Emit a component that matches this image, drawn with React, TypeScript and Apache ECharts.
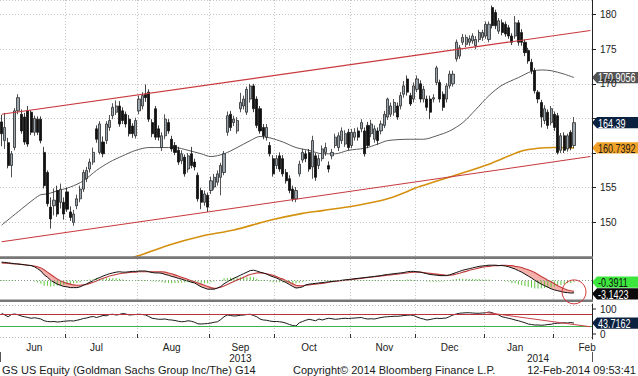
import React, { useEffect, useRef } from 'react';
import * as echarts from 'echarts';

const FONT = '"Liberation Sans", Arial, sans-serif';

// ---- calendar (categories) ----
const firstDay = '2013-06-03';
const slotCount = 181; // 176 trading days shown + empty slots to the right edge
const holidays = ['2013-07-04', '2013-09-02', '2013-11-28', '2013-12-25', '2014-01-01', '2014-01-20', '2014-02-17'];
const monthNames = ['Jan', 'Feb', 'Mar', 'Apr', 'May', 'Jun', 'Jul', 'Aug', 'Sep', 'Oct', 'Nov', 'Dec'];

// ---- daily prices [open, close, low, high] ----
const prices = [
  [164.5,162.8,161.0,165.5],[161.8,163.7,160.6,165.8],[161.5,158.2,157.8,162.2],[158.2,159.9,156.5,160.3],[160.8,166.1,160.4,166.5],
  [166.1,168.0,165.6,168.5],[165.6,163.2,162.8,166.3],[165.2,161.6,161.2,165.8],[166.1,161.3,160.9,166.8],[165.9,163.0,162.6,166.2],
  [163.0,165.0,162.5,165.4],[164.9,163.0,162.6,165.3],[164.9,161.8,161.4,165.3],[160.1,155.3,154.9,160.9],[157.2,152.7,152.3,157.5],
  [152.2,150.5,149.1,153.6],[152.4,153.2,151.0,154.9],[154.6,151.2,150.8,155.3],[152.9,154.8,152.0,155.6],[152.9,151.2,150.4,153.6],
  [154.4,151.9,151.5,155.0],[151.5,150.7,150.2,152.3],[150.0,151.2,149.5,151.8],[152.4,153.4,151.9,154.0],[153.4,154.8,152.9,155.3],
  [154.8,157.2,154.4,157.6],[156.3,157.5,155.8,158.0],[157.7,158.7,157.2,159.2],[158.7,160.1,158.3,160.8],[163.5,162.0,161.5,164.0],
  [160.1,164.2,159.8,164.6],[161.6,159.9,159.4,162.4],[161.8,164.2,161.3,164.6],[163.7,164.7,163.2,165.5],[165.4,166.6,164.9,167.2],
  [165.9,166.8,165.5,167.6],[166.8,164.2,163.8,167.5],[166.1,164.7,164.2,166.6],[165.6,164.2,163.7,166.0],[164.9,162.8,162.4,165.5],
  [163.9,162.8,162.2,164.3],[162.5,164.7,162.1,165.1],[166.1,167.8,165.6,168.3],[166.8,168.3,166.3,168.8],[168.5,168.0,167.4,169.9],
  [168.8,164.9,164.5,169.2],[164.4,162.8,162.3,164.9],[166.4,162.3,161.9,166.8],[163.5,162.3,161.8,164.0],[160.8,162.5,160.3,163.0],
  [162.5,164.9,162.0,165.6],[164.4,163.2,162.8,164.9],[162.0,160.6,160.2,162.5],[161.1,160.1,159.7,161.6],[160.4,158.7,158.3,160.9],
  [158.9,159.9,158.4,160.4],[159.4,157.0,156.6,159.8],[157.7,159.6,157.2,160.0],[159.9,158.2,157.8,160.9],[158.7,158.0,157.5,159.2],
  [156.8,153.4,153.0,157.2],[154.6,152.9,151.9,155.0],[152.9,154.1,152.4,154.6],[153.9,152.2,151.5,154.3],[154.6,156.0,154.1,156.6],
  [155.1,156.5,154.7,157.0],[155.8,157.0,155.3,157.5],[156.5,158.2,153.9,158.6],[157.2,159.9,156.8,160.3],[163.0,165.4,162.5,166.0],
  [165.6,163.7,163.2,166.1],[164.4,164.9,163.9,165.4],[163.2,164.7,162.8,165.2],[166.4,167.3,165.9,168.7],[166.8,167.8,166.3,168.3],
  [165.9,169.2,165.5,169.6],[167.8,169.7,167.3,170.0],[169.7,166.4,165.9,170.0],[167.8,164.0,163.6,168.2],[166.4,163.2,162.8,166.8],
  [163.7,162.5,162.0,164.2],[162.3,163.7,161.8,164.2],[161.1,159.9,159.5,161.6],[159.2,157.0,156.6,159.7],[158.2,159.2,157.7,159.7],
  [159.6,157.7,157.3,160.1],[159.2,157.0,156.6,159.7],[157.2,156.0,155.6,157.7],[156.3,154.6,154.2,156.8],[154.8,153.4,153.0,155.3],
  [153.4,154.6,152.9,155.1],[157.0,158.4,156.6,158.9],[159.0,160.1,158.6,160.6],[159.9,159.2,158.7,160.4],[160.1,157.7,157.3,160.6],
  [158.0,161.8,156.3,162.5],[159.6,156.5,156.0,160.0],[158.2,159.2,157.7,159.8],[159.2,160.6,158.8,161.1],[160.1,160.8,159.6,161.5],
  [158.2,157.7,157.2,158.8],[159.6,160.1,159.1,160.6],[161.1,162.3,160.7,162.8],[160.8,162.5,160.3,163.0],[161.8,163.2,161.3,163.7],
  [161.3,162.8,160.9,163.3],[163.0,160.8,160.4,163.5],[161.1,163.0,160.7,163.5],[162.3,163.0,161.8,163.6],[163.2,162.3,161.8,163.7],
  [163.5,164.4,163.0,164.9],[163.2,159.9,159.5,163.7],[164.0,161.1,160.7,164.5],[162.8,164.2,162.3,164.8],[162.0,163.5,161.5,164.0],
  [163.2,161.8,161.2,163.7],[163.2,164.2,162.7,164.7],[164.0,165.6,163.6,166.1],[165.2,167.8,164.8,168.0],[165.6,166.8,165.2,167.3],
  [165.9,167.3,165.4,167.8],[166.8,165.2,164.8,167.3],[166.8,168.3,166.3,168.8],[168.5,169.7,168.0,170.4],[170.7,168.8,168.3,171.2],
  [168.3,167.1,166.8,168.7],[167.8,169.7,167.3,170.2],[169.2,170.7,168.8,171.2],[170.0,167.8,167.3,170.5],[167.8,169.2,167.3,169.7],
  [167.8,166.6,166.1,168.3],[167.8,165.9,164.9,168.3],[167.8,168.0,167.3,168.5],[170.2,172.3,169.8,172.6],[170.2,167.8,167.3,170.6],
  [168.5,166.6,166.1,168.9],[167.8,169.7,167.3,170.1],[169.7,171.4,169.3,171.9],[170.0,171.4,169.6,171.9],[173.6,176.0,173.2,176.4],
  [174.0,175.2,173.6,175.6],[176.0,176.7,175.6,177.2],[175.7,176.7,175.3,177.1],[176.0,176.5,175.5,177.0],[176.2,176.9,175.8,177.3],
  [175.5,176.4,175.0,176.9],[176.4,177.4,176.0,177.8],[176.7,177.4,176.2,177.8],[176.9,178.6,176.5,179.0],[176.4,178.6,176.0,179.0],
  [181.0,178.4,178.0,181.3],[180.3,178.4,177.9,180.7],[177.6,179.1,177.2,179.5],[178.8,177.4,177.0,179.3],[178.6,177.2,176.8,179.0],
  [178.1,176.9,176.5,178.5],[176.9,176.0,175.6,177.3],[176.9,178.8,176.5,179.8],[178.8,176.0,175.5,179.2],[177.4,176.0,175.5,177.9],
  [176.0,174.5,174.0,176.4],[174.8,173.3,172.9,175.2],[173.1,171.9,171.4,173.6],[171.9,169.0,168.6,172.3],[168.8,167.8,167.2,169.1],
  [167.3,165.2,163.7,167.7],[164.7,166.4,164.2,166.9],[165.9,164.0,163.5,166.3],[164.4,166.4,164.0,166.8],[165.6,163.7,163.2,166.0],
  [165.4,160.1,159.8,165.8],[160.4,162.5,160.0,162.9],[162.5,160.4,160.0,163.0],[160.6,162.5,160.2,162.8],[163.0,160.8,160.4,163.3],
  [161.1,164.39,160.7,165.2],
];

// ---- moving averages, [day index, value] ----
const ma50 = [[0,149.6],[6,151.9],[10,153.4],[12,154.0],[14,154.1],[16,154.4],[21,155.1],[25,156.0],[29,157.5],[33,158.7],[37,159.6],[41,160.4],
  [45,160.8],[49,160.8],[53,160.8],[57,160.4],[61,159.9],[64,159.5],[68,159.9],[72,160.8],[76,161.8],[79,162.4],[82,162.2],[86,161.6],[90,160.8],
  [94,160.4],[98,159.9],[102,159.9],[106,160.4],[111,160.7],[115,161.3],[118,161.8],[125,162.0],[129,162.0],[133,162.5],[137,163.2],[141,164.4],
  [145,166.3],[149,168.3],[153,169.8],[158,170.9],[162,171.8],[165,172.0],[168,171.9],[172,171.4],[175,170.9056]];
const ma200 = [[38,144.6],[42,145.2],[51,146.7],[61,148.0],[71,148.9],[82,150.3],[92,151.3],[98,151.7],[108,152.4],[118,153.4],[128,155.2],
  [138,156.7],[149,158.4],[159,160.3],[164,160.7],[169,160.8],[175,160.7392]];

// ---- channel trend lines [day index, value] ----
const upperChannel = [[0, 165.6], [180, 177.7]];
const lowerChannel = [[0, 147.2], [180, 159.5]];

// ---- MACD ----
const macd = [4.8,4.7,4.6,4.5,4.4,4.3,4.2,4.1,4.0,3.9,3.6,3.1,2.5,1.5,0.9,0.1,-0.4,-0.9,-1.2,-1.5,
  -1.6,-1.8,-1.8,-1.8,-1.6,-1.2,-0.8,-0.4,0.0,0.5,0.8,1.2,1.5,1.8,2.0,2.2,2.3,2.2,2.2,2.3,
  2.4,2.4,2.5,2.5,2.5,2.3,2.1,2.0,2.0,1.9,1.6,1.4,1.1,0.9,0.6,0.4,0.1,-0.1,-0.4,-0.6,
  -1.1,-1.6,-1.9,-2.2,-2.2,-2.2,-1.9,-1.5,-0.8,-0.3,0.2,0.6,1.0,1.4,1.8,2.2,2.6,2.7,2.5,2.2,
  2.0,1.7,1.3,1.0,0.7,0.3,-0.1,-0.5,-1.0,-1.5,-1.9,-1.8,-1.6,-1.1,-0.9,-0.8,-0.7,-0.6,-0.5,-0.4,
  -0.3,-0.2,-0.1,0.0,0.1,0.2,0.3,0.4,0.5,0.6,0.7,0.8,0.9,1.0,1.1,1.2,1.3,1.5,1.6,1.7,
  1.8,1.9,2.0,2.1,2.3,2.4,2.4,2.3,2.2,2.0,1.8,1.6,1.5,1.4,1.3,1.3,1.3,1.5,1.8,2.1,
  2.4,2.7,2.9,3.1,3.3,3.5,3.7,3.8,3.9,4.0,4.0,4.0,3.9,3.9,3.8,3.6,3.3,3.0,2.6,2.2,
  1.7,1.2,0.7,0.1,-0.4,-0.9,-1.3,-1.7,-2.1,-2.4,-2.6,-2.8,-3.0,-3.1,-3.2,-3.1423];
const signal = [4.6,4.5,4.5,4.4,4.3,4.3,4.2,4.1,4.0,3.9,3.8,3.6,3.3,2.8,2.2,1.6,1.0,0.4,0.0,-0.4,
  -0.7,-0.9,-1.1,-1.2,-1.2,-1.1,-1.0,-0.7,-0.4,-0.1,0.3,0.6,0.9,1.2,1.4,1.6,1.8,1.9,2.0,2.1,
  2.2,2.2,2.3,2.3,2.3,2.3,2.3,2.3,2.3,2.3,2.2,2.0,1.8,1.5,1.2,0.9,0.6,0.3,0.0,-0.3,
  -0.6,-0.9,-1.2,-1.5,-1.8,-2.0,-1.9,-1.7,-1.4,-1.0,-0.6,-0.2,0.2,0.5,0.9,1.3,1.6,1.8,2.0,2.0,
  1.9,1.8,1.6,1.4,1.1,0.7,0.4,0.0,-0.4,-0.8,-1.2,-1.3,-1.3,-1.2,-1.1,-1.0,-0.9,-0.8,-0.7,-0.6,
  -0.4,-0.3,-0.2,-0.1,0.0,0.1,0.2,0.3,0.4,0.5,0.6,0.7,0.8,0.9,1.0,1.1,1.2,1.3,1.4,1.5,
  1.6,1.7,1.8,1.9,2.0,2.1,2.2,2.2,2.2,2.1,2.0,1.9,1.8,1.7,1.6,1.5,1.4,1.4,1.5,1.7,
  1.9,2.2,2.4,2.7,2.9,3.1,3.3,3.5,3.6,3.7,3.8,3.9,3.9,4.0,4.0,3.9,3.9,3.7,3.6,3.4,
  3.1,2.8,2.5,2.1,1.6,1.1,0.6,0.1,-0.3,-0.8,-1.3,-1.7,-2.1,-2.4,-2.6,-2.7512];

// ---- RSI ----
const rsi = [83,76,69,78,80,77,72,69,66,63,65,63,60,53,50,49,50,48,49,51,
  52,53,52,55,58,62,64,68,70,66,70,74,73,78,79,76,78,82,80,76,
  77,78,79,78,76,70,63,61,59,59,60,57,56,54,51,49,50,53,51,47,
  41,40,41,42,44,47,49,58,69,76,74,72,73,75,76,78,79,74,69,60,
  56,55,52,50,50,49,47,43,38,34,32,45,50,55,59,56,53,60,56,60,
  63,61,59,60,62,63,62,63,64,65,66,62,60,61,60,63,66,68,69,70,
  71,71,72,74,75,76,74,68,63,60,56,58,61,63,62,63,64,70,76,80,
  83,84,85,85,84,83,83,84,85,88,85,80,76,69,66,63,60,56,53,49,
  45,40,38,36,36,35,36,38,39,42,43,44,45,44,46,43.7162];
const rsiOverbought = 80;
const rsiOversold = 30;
const rsiTrend = [[148, 86], [180, 29]];
const rsiTicks = [0, 100];

// ---- last-value tags ----
const lastClose = 164.39;
const lastMa50 = 170.9056;
const lastMa200 = 160.7392;
const lastMacd = -3.1423;
const lastHist = -0.3911;
const lastRsi = 43.7162;
const macdCircle = [175, -2.9];

const footerLeft = 'GS US Equity (Goldman Sachs Group Inc/The) G14';
const footerMid = 'Copyright\u00A9 2014 Bloomberg Finance L.P.';
const footerRight = '12-Feb-2014 09:53:41';

function tradingDays(start: string, n: number, skip: string[]) {
  const out: string[] = [];
  const d = new Date(start + 'T00:00:00Z');
  while (out.length < n) {
    const dow = d.getUTCDay();
    const iso = d.toISOString().slice(0, 10);
    if (dow !== 0 && dow !== 6 && !skip.includes(iso)) out.push(iso);
    d.setUTCDate(d.getUTCDate() + 1);
  }
  return out;
}

export default function App() {
  const ref = useRef<HTMLDivElement>(null);
  useEffect(() => {
    const el = ref.current!;
    const chart = echarts.init(el, undefined, { renderer: 'svg' });
    const dates = tradingDays(firstDay, slotCount, holidays);

    const monthStarts = new Set<number>();
    const midMonth = new Map<number, string>();
    const seenMid = new Set<string>();
    const yearStarts = new Set<number>();
    const yearRange = new Map<string, [number, number]>();
    dates.forEach((d, i) => {
      const ym = d.slice(0, 7);
      if (i > 0 && dates[i - 1].slice(0, 7) !== ym) monthStarts.add(i);
      if (i > 0 && dates[i - 1].slice(0, 4) !== d.slice(0, 4)) yearStarts.add(i);
      if (+d.slice(8, 10) >= 15 && !seenMid.has(ym)) {
        seenMid.add(ym);
        midMonth.set(i, monthNames[+d.slice(5, 7) - 1]);
      }
      const y = d.slice(0, 4);
      const r = yearRange.get(y);
      if (r) r[1] = i; else yearRange.set(y, [i, i]);
    });
    const yearMid = new Map<number, string>();
    yearRange.forEach((r, y) => yearMid.set(Math.floor((r[0] + r[1]) / 2), y));

    const hist = macd.map((m, i) => +(m - signal[i]).toFixed(4));
    const bandBase = macd.map((m, i) => Math.min(m, signal[i]) + 10);
    const bandTop = macd.map((m, i) => Math.max(signal[i] - m, 0));

    // price-axis labels that sit fully under a value tag are not drawn
    const tagged = [lastClose, lastMa50, lastMa200];
    const hiddenTick = (v: number) => tagged.some((t) => Math.abs(t - v) < 0.8);

    const grid = { left: -3, right: 46 };
    const dotted = { color: '#c6c6c6', type: [1, 2] as any, width: 1 };
    const baseX = (gridIndex: number) => ({
      type: 'category', gridIndex, data: dates, boundaryGap: true,
      axisLine: { show: false }, axisTick: { show: false }, axisLabel: { show: false },
      splitLine: { show: true, interval: (i: number) => monthStarts.has(i), lineStyle: dotted },
    });
    const noMark = { symbol: ['none', 'none'], silent: true, label: { show: false }, animation: false };

    chart.setOption({
      animation: false,
      textStyle: { fontFamily: FONT },
      grid: [
        { ...grid, top: 0, height: 257 },
        { ...grid, top: 259, height: 41 },
        { ...grid, top: 304, height: 35 },
      ],
      xAxis: [
        baseX(0),
        baseX(1),
        {
          ...baseX(2),
          axisTick: { show: true, interval: (i: number) => monthStarts.has(i), length: 4, lineStyle: { color: '#333' } },
          axisLabel: {
            show: true, interval: (i: number) => midMonth.has(i),
            formatter: (_v: string, i: number) => midMonth.get(i) ?? '',
            fontSize: 10, color: '#222', margin: 3, fontFamily: FONT, lineHeight: 10,
          },
        },
        {
          type: 'category', gridIndex: 2, data: dates, boundaryGap: true, offset: 13, position: 'bottom',
          axisLine: { show: false },
          axisTick: { show: true, interval: (i: number) => yearStarts.has(i), length: 10, lineStyle: { color: '#555' } },
          axisLabel: {
            show: true, interval: (i: number) => yearMid.has(i),
            formatter: (_v: string, i: number) => yearMid.get(i) ?? '',
            fontSize: 10, color: '#222', margin: 1, fontFamily: FONT, lineHeight: 10,
          },
          splitLine: { show: false },
        },
      ],
      yAxis: [
        {
          type: 'value', gridIndex: 0, position: 'right', min: 145, max: 182.1, interval: 5,
          axisLine: { show: true, lineStyle: { color: '#222' } },
          axisTick: { show: true, length: 4, lineStyle: { color: '#222' } },
          axisLabel: {
            margin: 8, fontSize: 10, color: '#222', fontFamily: FONT, showMinLabel: false, showMaxLabel: false,
            formatter: (v: number) => (Math.abs(v % 5) < 1e-6 && v > 145 && !hiddenTick(v) ? String(v) : ''),
          },
          splitLine: { show: true, lineStyle: dotted },
        },
        {
          type: 'value', gridIndex: 1, position: 'right', min: -5, max: 5.6,
          axisLine: { show: true, lineStyle: { color: '#222' } },
          axisTick: { show: false }, axisLabel: { show: false }, splitLine: { show: false },
        },
        { type: 'value', gridIndex: 1, min: 5, max: 15.6, show: false, splitLine: { show: false } },
        {
          type: 'value', gridIndex: 2, position: 'right', min: -20, max: 120, interval: 20,
          axisLine: { show: true, lineStyle: { color: '#222' } },
          axisTick: { show: false },
          axisLabel: {
            margin: 8, fontSize: 10, color: '#222', fontFamily: FONT, lineHeight: 10,
            formatter: (v: number) => (rsiTicks.includes(v) ? String(v) : ''),
          },
          splitLine: { show: false },
        },
      ],
      series: [
        {
          type: 'candlestick', xAxisIndex: 0, yAxisIndex: 0, data: prices, barWidth: 2.6,
          itemStyle: { color: '#9ba5ae', color0: '#111111', borderColor: '#2a2a2a', borderColor0: '#111111', borderWidth: 0.8 },
          markLine: {
            ...noMark,
            lineStyle: { color: '#c8383c', width: 1.1, type: 'solid' },
            data: [
              [{ coord: upperChannel[0] }, { coord: upperChannel[1] }],
              [{ coord: lowerChannel[0] }, { coord: lowerChannel[1] }],
            ],
          },
          z: 3,
        },
        {
          type: 'line', xAxisIndex: 0, yAxisIndex: 0, data: ma50, symbol: 'none', smooth: 0.3,
          lineStyle: { color: '#5a5a5a', width: 1 }, z: 2,
        },
        {
          type: 'line', xAxisIndex: 0, yAxisIndex: 0, data: ma200, symbol: 'none', smooth: 0.3,
          lineStyle: { color: '#d4900f', width: 1.6 }, z: 2,
        },
        {
          type: 'line', xAxisIndex: 1, yAxisIndex: 2, data: bandBase, stack: 'band', symbol: 'none',
          lineStyle: { opacity: 0 }, z: 1,
        },
        {
          type: 'line', xAxisIndex: 1, yAxisIndex: 2, data: bandTop, stack: 'band', symbol: 'none',
          lineStyle: { opacity: 0 }, areaStyle: { color: '#f4a7a3', opacity: 0.9 }, z: 1,
        },
        {
          type: 'bar', xAxisIndex: 1, yAxisIndex: 1, data: hist, barWidth: 1,
          itemStyle: { color: '#5fc43e' }, z: 2,
          markLine: { ...noMark, lineStyle: { color: '#8a9a8a', type: [1, 2], width: 1 }, data: [{ yAxis: 0 }] },
        },
        {
          type: 'line', xAxisIndex: 1, yAxisIndex: 1, data: signal, symbol: 'none',
          lineStyle: { color: '#c23b3b', width: 1.1 }, z: 3,
        },
        {
          type: 'line', xAxisIndex: 1, yAxisIndex: 1, data: macd, symbol: 'none',
          lineStyle: { color: '#111111', width: 1 }, z: 4,
        },
        {
          type: 'line', xAxisIndex: 2, yAxisIndex: 3, data: rsi, symbol: 'none',
          lineStyle: { color: '#1a1a1a', width: 1 }, z: 4,
          markLine: {
            ...noMark,
            data: [
              { yAxis: rsiOverbought, lineStyle: { color: '#b8333a', width: 1.2, type: 'solid' } },
              { yAxis: rsiOversold, lineStyle: { color: '#3cb44b', width: 1.2, type: 'solid' } },
              { yAxis: 116, lineStyle: { color: '#bbbbbb', width: 1, type: [1, 2] } },
              { yAxis: -13, lineStyle: { color: '#bbbbbb', width: 1, type: [1, 2] } },
              [{ coord: rsiTrend[0], lineStyle: { color: '#c8464a', width: 1.1, type: 'solid' } }, { coord: rsiTrend[1] }],
            ],
          },
        },
      ],
    });

    const py = (axis: number, v: number) => chart.convertToPixel({ yAxisIndex: axis } as any, v) as number;
    const px = (axis: number, i: number) => chart.convertToPixel({ xAxisIndex: axis } as any, i) as number;
    const AX = 592;
    const H = 5.6;
    const tag = (y: number, text: string, fill: string, color: string) => ({
      type: 'group', z: 100,
      children: [
        { type: 'polygon', shape: { points: [[AX, y], [AX + 5, y - H], [638, y - H], [638, y + H], [AX + 5, y + H]] }, style: { fill } },
        {
          type: 'text', x: AX + 6, y: y + 0.3, scaleX: 0.72,
          style: { text, fill: color, fontSize: 12.5, fontFamily: FONT, lineHeight: 11, align: 'left', verticalAlign: 'middle', textAlign: 'left', textVerticalAlign: 'middle' },
        },
      ],
    });
    const yHist = py(1, lastHist);
    const yMacd = Math.max(py(1, lastMacd), yHist + 2 * H + 0.5);
    const footer = (x: number, text: string, align: string) => ({
      type: 'text', x, y: 369.5, z: 100,
      style: { text, fill: '#1a1a1a', fontSize: 11, fontFamily: FONT, lineHeight: 11, align, verticalAlign: 'middle', textAlign: align, textVerticalAlign: 'middle' },
    });
    const cx = px(1, macdCircle[0]);
    const cy = py(1, macdCircle[1]);

    chart.setOption({
      graphic: [
        { type: 'rect', z: 90, shape: { x: 0, y: 256.3, width: 593, height: 2.7 }, style: { fill: '#777777' } },
        { type: 'rect', z: 90, shape: { x: 0, y: 299.5, width: 593, height: 2.6 }, style: { fill: '#777777' } },
        ...rsiTicks.map((v) => ({ type: 'line', z: 90, shape: { x1: AX, y1: py(3, v), x2: AX + 4, y2: py(3, v) }, style: { stroke: '#222', lineWidth: 1 } })),
        { type: 'circle', z: 95, shape: { cx, cy, r: 12 }, style: { fill: 'none', stroke: '#d23a3a', lineWidth: 1 } },
        tag(py(0, lastMa50), String(lastMa50), '#545454', '#ffffff'),
        tag(py(0, lastClose), String(lastClose), '#0b2140', '#ffffff'),
        tag(py(0, lastMa200), String(lastMa200), '#f0a127', '#1a1a1a'),
        tag(yHist, String(lastHist), '#3de63d', '#111111'),
        tag(yMacd, String(lastMacd), '#0a0a0a', '#ffffff'),
        tag(py(3, lastRsi), String(lastRsi), '#0b2140', '#ffffff'),
        footer(2, footerLeft, 'left'),
        footer(293, footerMid, 'left'),
        footer(636, footerRight, 'right'),
      ],
    });

    return () => chart.dispose();
  }, []);
  return <div ref={ref} style={{ position: 'fixed', left: 0, top: 0, width: 638, height: 376, background: '#fff' }} />;
}
